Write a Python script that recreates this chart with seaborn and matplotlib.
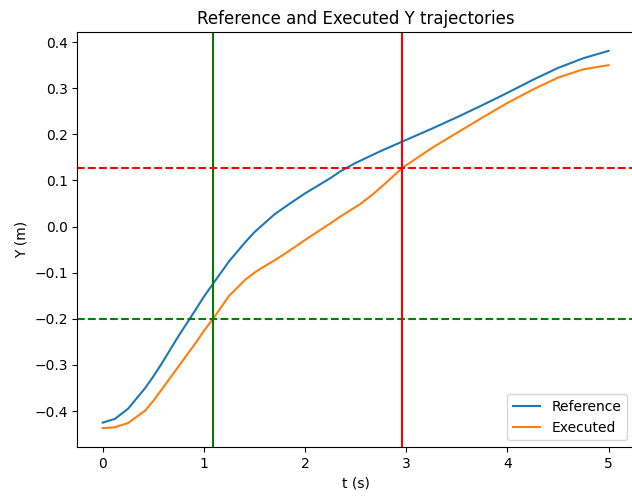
import numpy as np
import pandas as pd
import matplotlib
matplotlib.use("Agg")
import matplotlib.pyplot as plt
import seaborn as sns

# values
t_ref = [0.0, 0.12, 0.25, 0.42, 0.5, 0.58, 0.75, 0.86, 1.0, 1.09, 1.25, 1.4, 1.5,
         1.7, 1.85, 2.0, 2.25, 2.35, 2.5, 2.75, 3.0, 3.25, 3.5, 3.75, 4.0, 4.25, 4.5, 4.75, 5.0]
y_ref = [-0.425, -0.417, -0.395, -0.35, -0.325, -0.298, -0.237, -0.2, -0.152, -0.124, -0.075, -0.036, -0.012,
         0.027, 0.05, 0.072, 0.105, 0.12, 0.138, 0.164, 0.188, 0.212, 0.237, 0.263, 0.29, 0.318, 0.344, 0.365, 0.381]

t_exe = [0.0, 0.12, 0.25, 0.42, 0.5, 0.58, 0.75, 0.91, 1.0, 1.09, 1.25, 1.41, 1.5, 1.57, 1.7, 1.82,
         2.0, 2.25, 2.35, 2.54, 2.67, 2.8, 2.96, 3.25, 3.5, 3.75, 4.0, 4.25, 4.5, 4.75, 5.0]
y_exe = [-0.437, -0.435, -0.426, -0.399, -0.378, -0.354, -0.303, -0.255, -0.226, -0.2, -0.15, -0.115, -0.1, -0.09, -0.073, -0.056,
         -0.029, 0.007, 0.022, 0.048, 0.07, 0.095, 0.127, 0.17, 0.203, 0.236, 0.268, 0.297, 0.323, 0.341, 0.35]

t_marks = [1.087, 2.96]
y_marks = [-0.2, 0.127]
mark_colors = ["green", "red"]

df = pd.concat([
    pd.DataFrame({"t": t_ref, "y": y_ref, "series": "Reference"}),
    pd.DataFrame({"t": t_exe, "y": y_exe, "series": "Executed"}),
])

fig, ax = plt.subplots(figsize=(6.32, 5.03), dpi=100)
fig.subplots_adjust(left=0.1225, right=1.003, top=0.9364, bottom=0.1113)

sns.lineplot(data=df, x="t", y="y", hue="series", ax=ax, sort=False,
             palette=["#1f77b4", "#ff7f0e"], linewidth=1.5)

for tm, ym, c in zip(t_marks, y_marks, mark_colors):
    ax.axvline(tm, color=c, linewidth=1.5)
    ax.axhline(ym, color=c, linestyle="--", linewidth=1.5)

ax.set_title("Reference and Executed Y trajectories")
ax.set_xlabel("t (s)")
ax.set_ylabel("Y (m)")
ax.legend(loc="lower right")

fig.savefig("out.png", dpi=100)
